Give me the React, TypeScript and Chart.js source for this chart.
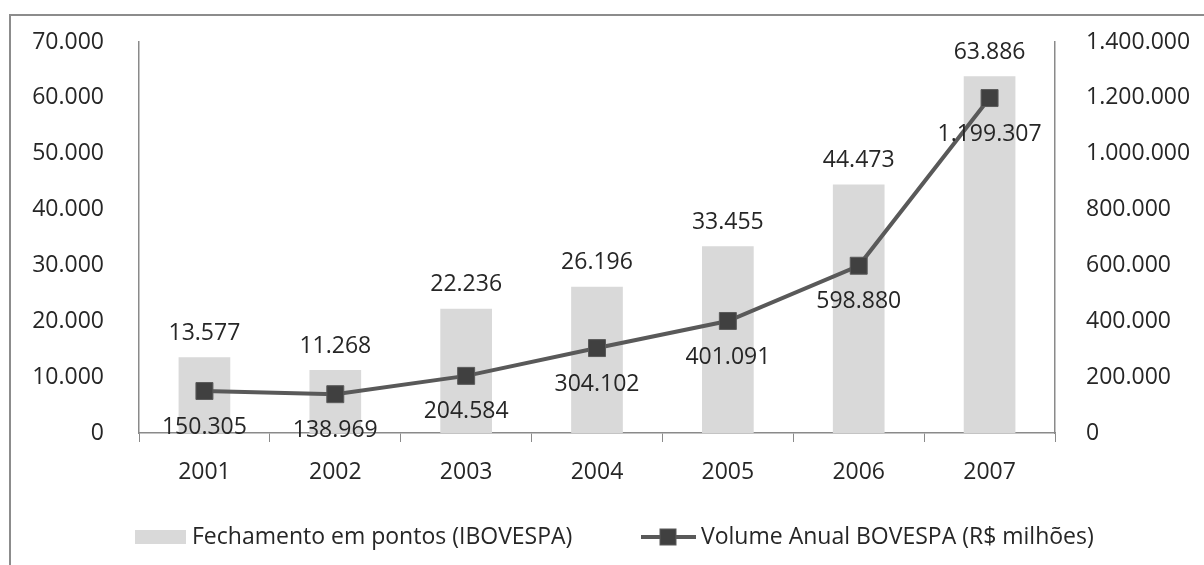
import React, { useEffect, useRef } from 'react';
import { Chart, registerables } from 'chart.js';

Chart.register(...registerables);

const years = ['2001', '2002', '2003', '2004', '2005', '2006', '2007'];
const fechamento = [13577, 11268, 22236, 26196, 33455, 44473, 63886];
const volume = [150305, 138969, 204584, 304102, 401091, 598880, 1199307];
const seriesLabels = ['Fechamento em pontos (IBOVESPA)', 'Volume Anual BOVESPA (R$ milhões)'];
const leftMax = 70000;
const leftStep = 10000;
const rightMax = 1400000;
const rightStep = 200000;

const FONT_FAMILY = '"Open Sans", "DejaVu Sans", sans-serif';
const FONT_SIZE = 23;
const TEXT = '#262626';
const AXIS = '#8a8a8a';
const BAR = '#d9d9d9';
const LINE = '#595959';
const MARKER = '#404040';

function fmt(n: number): string {
  return Math.round(n).toString().replace(/\B(?=(\d{3})+(?!\d))/g, '.');
}

const labelsPlugin = {
  id: 'valueLabelsAndLegend',
  afterDatasetsDraw(chart: any) {
    const ctx = chart.ctx;
    ctx.save();
    ctx.font = `${FONT_SIZE}px ${FONT_FAMILY}`;
    ctx.fillStyle = TEXT;
    ctx.textAlign = 'center';
    ctx.textBaseline = 'middle';
    chart.getDatasetMeta(0).data.forEach((el: any, i: number) => {
      ctx.fillText(fmt(fechamento[i]), el.x, el.y - 24);
    });
    chart.getDatasetMeta(1).data.forEach((el: any, i: number) => {
      ctx.fillText(fmt(volume[i]), el.x, el.y + 36);
    });

    // legend
    const ly = 537;
    ctx.fillStyle = BAR;
    ctx.fillRect(135, ly - 7, 51, 14);
    ctx.fillStyle = TEXT;
    ctx.textAlign = 'left';
    ctx.fillText(seriesLabels[0], 192, ly);

    ctx.strokeStyle = LINE;
    ctx.lineWidth = 4;
    ctx.beginPath();
    ctx.moveTo(641, ly);
    ctx.lineTo(696, ly);
    ctx.stroke();
    ctx.fillStyle = MARKER;
    ctx.fillRect(660, ly - 8, 16, 16);
    ctx.strokeStyle = '#5a5a5a';
    ctx.lineWidth = 1;
    ctx.strokeRect(660, ly - 8, 16, 16);
    ctx.fillStyle = TEXT;
    ctx.fillText(seriesLabels[1], 701, ly);
    ctx.restore();
  },
};

export default function App() {
  const canvasRef = useRef<HTMLCanvasElement | null>(null);

  useEffect(() => {
    if (!canvasRef.current) return;
    const chart = new Chart(canvasRef.current, {
      type: 'bar',
      data: {
        labels: years,
        datasets: [
          {
            type: 'bar',
            label: seriesLabels[0],
            data: fechamento,
            backgroundColor: BAR,
            yAxisID: 'y',
            categoryPercentage: 1,
            barPercentage: 0.395,
            order: 2,
          },
          {
            type: 'line',
            label: seriesLabels[1],
            data: volume,
            borderColor: LINE,
            borderWidth: 4,
            pointStyle: 'rect',
            pointRadius: 12,
            pointBackgroundColor: MARKER,
            pointBorderColor: '#5a5a5a',
            pointBorderWidth: 1,
            tension: 0,
            yAxisID: 'y1',
            order: 1,
          },
        ],
      },
      options: {
        responsive: false,
        animation: false,
        layout: { padding: { left: 0, right: 0, top: 42, bottom: 72 } },
        plugins: {
          legend: { display: false },
          tooltip: { enabled: false },
        },
        scales: {
          x: {
            offset: true,
            grid: {
              display: true,
              drawOnChartArea: false,
              drawTicks: true,
              tickLength: 9,
              color: AXIS,
              offset: true,
            },
            border: { display: true, color: AXIS, width: 1.5 },
            ticks: {
              color: TEXT,
              padding: 17,
              font: { family: FONT_FAMILY, size: FONT_SIZE, lineHeight: 1.2 },
            },
            afterFit: (s: any) => {
              s.height = 60;
            },
          },
          y: {
            position: 'left',
            min: 0,
            max: leftMax,
            grid: { display: false },
            border: { display: true, color: AXIS, width: 1.5 },
            ticks: {
              stepSize: leftStep,
              color: TEXT,
              padding: 27,
              font: { family: FONT_FAMILY, size: FONT_SIZE },
              callback: (v: any) => fmt(Number(v)),
            },
            afterFit: (s: any) => {
              s.width = 139;
            },
          },
          y1: {
            position: 'right',
            min: 0,
            max: rightMax,
            grid: { display: false },
            border: { display: true, color: AXIS, width: 1.5 },
            ticks: {
              stepSize: rightStep,
              color: TEXT,
              padding: 23,
              font: { family: FONT_FAMILY, size: FONT_SIZE },
              callback: (v: any) => fmt(Number(v)),
            },
            afterFit: (s: any) => {
              s.width = 149;
            },
          },
        },
      },
      plugins: [labelsPlugin],
    });
    return () => chart.destroy();
  }, []);

  return (
    <div style={{ position: 'fixed', left: 0, top: 0, width: 1204, height: 565, background: '#fff' }}>
      <div
        style={{
          position: 'absolute',
          left: 9,
          top: 14,
          width: 1195,
          height: 551,
          borderLeft: '2px solid #8c8c8c',
          borderTop: '2px solid #8c8c8c',
          boxSizing: 'border-box',
        }}
      />
      <canvas
        ref={canvasRef}
        width={1204}
        height={565}
        style={{ position: 'absolute', left: 0, top: 0, width: 1204, height: 565 }}
      />
    </div>
  );
}
